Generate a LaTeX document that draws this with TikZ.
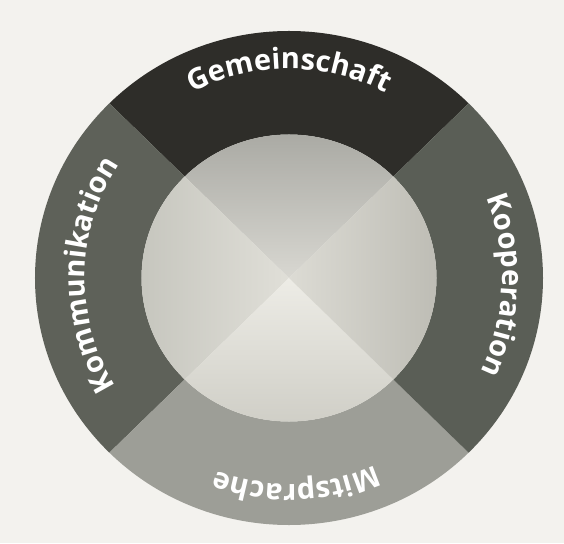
\documentclass[tikz,border=0pt]{standalone}
\usepackage{fontspec}
\setmainfont{Open Sans}
\usetikzlibrary{decorations.text}

\definecolor{paper}{HTML}{F3F2EE}
\definecolor{gemcol}{HTML}{2E2D29}
\definecolor{kommcol}{HTML}{5E6159}
\definecolor{koopcol}{HTML}{5A5E56}
\definecolor{mitcol}{HTML}{9D9E97}
\definecolor{intop}{HTML}{A6A6A0}
\definecolor{intopc}{HTML}{D8D7D1}
\definecolor{inleft}{HTML}{C4C4BC}
\definecolor{inleftc}{HTML}{E0DFD8}
\definecolor{inright}{HTML}{BBBAB2}
\definecolor{inrightc}{HTML}{DCDBD4}
\definecolor{inbot}{HTML}{CDCCC4}
\definecolor{inbotc}{HTML}{EDECE6}

\tikzset{
  ringlabel/.style={decorate, decoration={text along path, text align=center,
    text color=white, text={|\bfseries\fontsize{29}{32}\selectfont|#1}}}
}

\begin{document}
\begin{tikzpicture}[x=1pt,y=1pt]
            \coordinate (O) at (0,0);
            \def\Rx{254pt }
            \def\Ry{247pt }
            \def\rx{147.5pt }
            \def\ry{143.5pt }

            \fill[paper] (-289,-265) rectangle (275,278);
            \useasboundingbox (-289,-265) rectangle (275,278);

            % outer ring, one sector per quarter
            \foreach \a/\col in {45/gemcol, 135/kommcol, 225/mitcol, 315/koopcol}{
                \fill[\col] (\a:\Rx and \Ry) arc [start angle=\a, end angle=\a+90, x radius=\Rx, y radius=\Ry]
                    -- (\a+90:\rx and \ry) arc [start angle=\a+90, end angle=\a, x radius=\rx, y radius=\ry] -- cycle;
            }

            % inner disc, lighter towards the middle
            \shade[top color=intop, bottom color=intopc] (O) -- (45:\rx and \ry) arc [start angle=45, end angle=135, x radius=\rx, y radius=\ry] -- cycle;
            \shade[left color=inleft, right color=inleftc] (O) -- (135:\rx and \ry) arc [start angle=135, end angle=225, x radius=\rx, y radius=\ry] -- cycle;
            \shade[bottom color=inbot, top color=inbotc] (O) -- (225:\rx and \ry) arc [start angle=225, end angle=315, x radius=\rx, y radius=\ry] -- cycle;
            \shade[right color=inright, left color=inrightc] (O) -- (315:\rx and \ry) arc [start angle=315, end angle=405, x radius=\rx, y radius=\ry] -- cycle;

            \path[ringlabel=Gemeinschaft] (150:209pt) arc [start angle=150, end angle=30, radius=209pt];
            \path[ringlabel=Kooperation] (58:213pt) arc [start angle=58, end angle=-62, radius=213pt];
            \path[ringlabel=Mitsprache] (332:206pt) arc [start angle=332, end angle=212, radius=206pt];
            \path[ringlabel=Kommunikation] (239:204pt) arc [start angle=239, end angle=119, radius=204pt];

        \end{tikzpicture}
\end{document}
